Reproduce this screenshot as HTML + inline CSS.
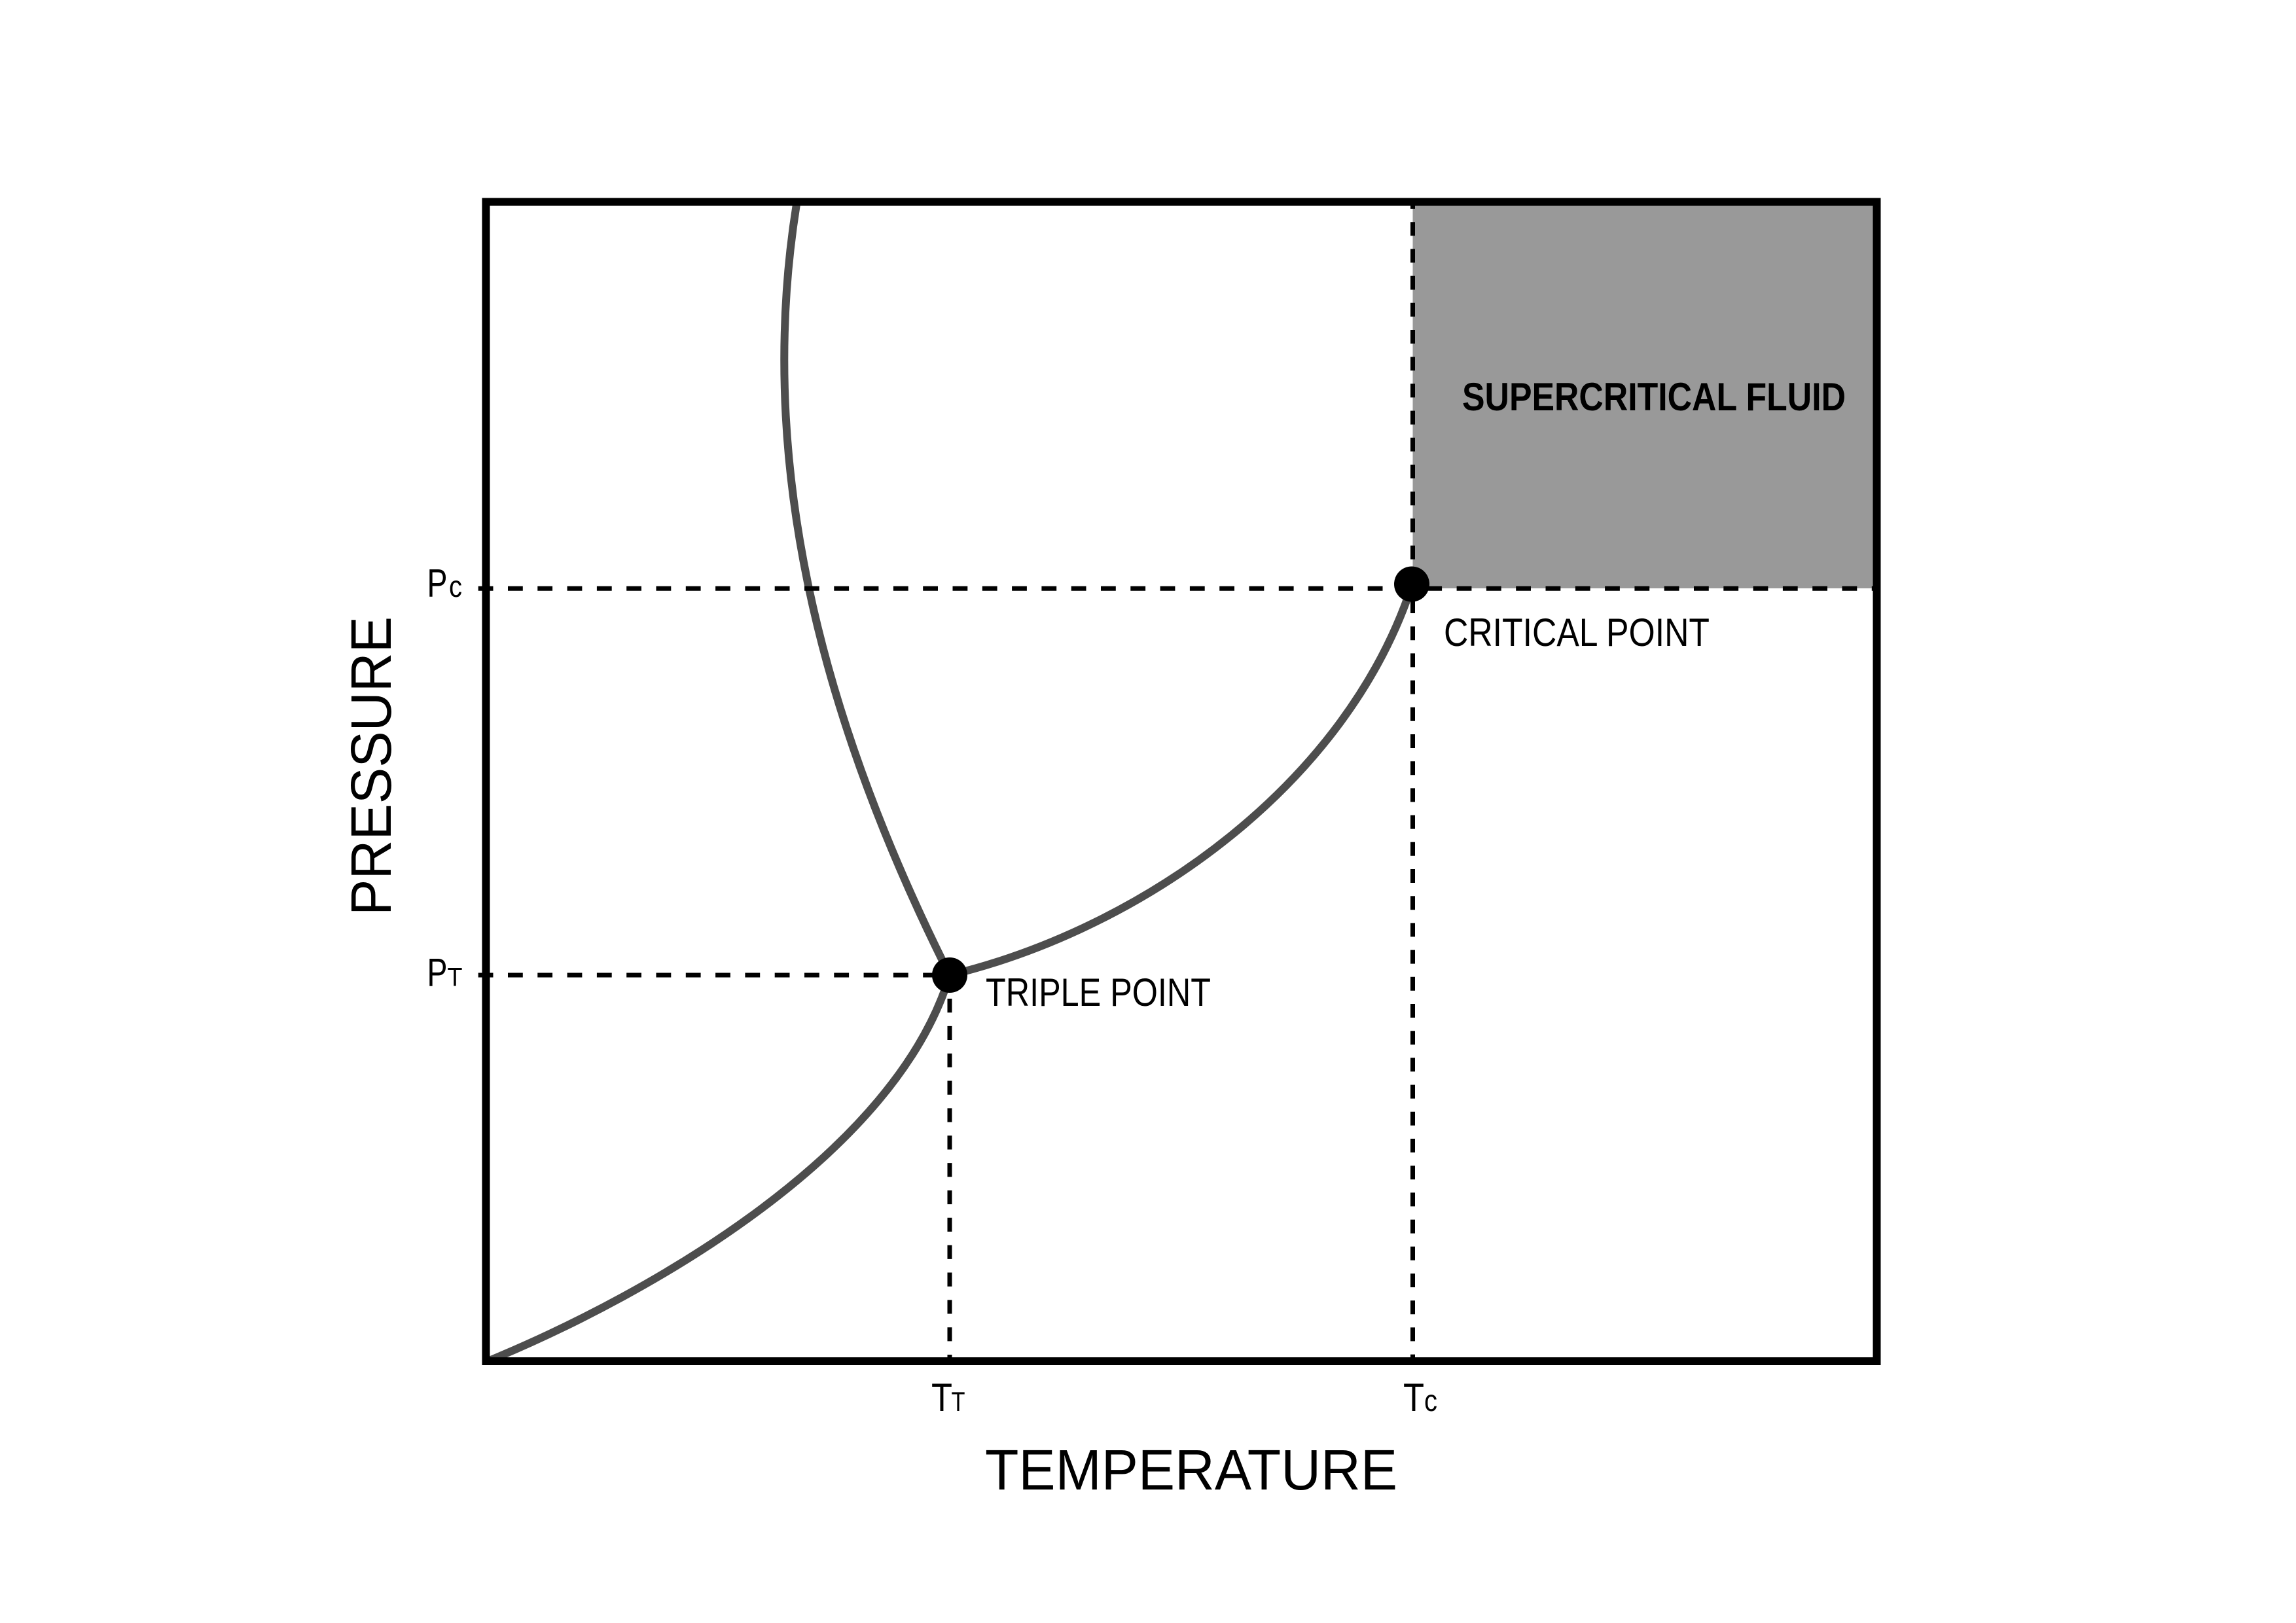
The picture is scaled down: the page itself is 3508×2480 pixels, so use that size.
<!DOCTYPE html>
<html><head><meta charset="utf-8"><style>
html,body{margin:0;padding:0;background:#fff}
svg{display:block}
text{font-family:"Liberation Sans",sans-serif;fill:#000}
</style></head><body>
<svg xmlns="http://www.w3.org/2000/svg" width="3508" height="2480" viewBox="0 0 3508 2480">
<rect width="3508" height="2480" fill="#fff"/>
<rect x="2158.5" y="308" width="708" height="591" fill="#999"/>
<g fill="none" stroke="#4d4d4d" stroke-width="12">
<path d="M1217,312 C1155,700 1250,1090 1451,1490"/>
<path d="M745,2080 C1000,1975 1370,1760 1451,1490"/>
<path d="M1451,1490 C1750,1418 2060,1195 2158,892"/>
</g>
<g fill="none" stroke="#000" stroke-width="7">
<path d="M730.7,899.2 H2866" stroke-dasharray="22.8 22.5"/>
<path d="M730.7,1490 H1440" stroke-dasharray="22.8 22.5"/>
<path d="M2158.5,308 V2080" stroke-dasharray="21 20.2" stroke-dashoffset="10"/>
<path d="M1451,1526 V2080" stroke-dasharray="21.2 20.65"/>
</g>
<rect x="742.5" y="308.5" width="2125" height="1771.5" fill="none" stroke="#000" stroke-width="12"/>
<circle cx="1451" cy="1490" r="27"/>
<circle cx="2157" cy="892.5" r="27"/>
<text x="2234" y="627" font-size="60" font-weight="bold" textLength="586" lengthAdjust="spacingAndGlyphs">SUPERCRITICAL FLUID</text>
<text x="2206" y="987" font-size="60" textLength="406" lengthAdjust="spacingAndGlyphs">CRITICAL POINT</text>
<text x="1506" y="1537" font-size="60" textLength="344" lengthAdjust="spacingAndGlyphs">TRIPLE POINT</text>
<text x="1505" y="2276" font-size="87" fill="#0a0a0a" textLength="630" lengthAdjust="spacingAndGlyphs">TEMPERATURE</text>
<text transform="translate(597,1399) rotate(-90)" font-size="87" textLength="457" lengthAdjust="spacingAndGlyphs">PRESSURE</text>
<text x="652.5" y="911.5" font-size="60" textLength="31" lengthAdjust="spacingAndGlyphs">P</text>
<text x="686" y="912" font-size="46" textLength="20" lengthAdjust="spacingAndGlyphs">c</text>
<text x="652.5" y="1506.5" font-size="60" textLength="31" lengthAdjust="spacingAndGlyphs">P</text>
<text x="683.5" y="1506.5" font-size="40" textLength="23" lengthAdjust="spacingAndGlyphs">T</text>
<text x="1423" y="2156" font-size="60" textLength="32" lengthAdjust="spacingAndGlyphs">T</text>
<text x="1453.5" y="2156" font-size="42" textLength="21" lengthAdjust="spacingAndGlyphs">T</text>
<text x="2144" y="2156" font-size="60" textLength="32" lengthAdjust="spacingAndGlyphs">T</text>
<text x="2176" y="2156" font-size="46" textLength="20" lengthAdjust="spacingAndGlyphs">c</text>
</svg>
</body></html>
